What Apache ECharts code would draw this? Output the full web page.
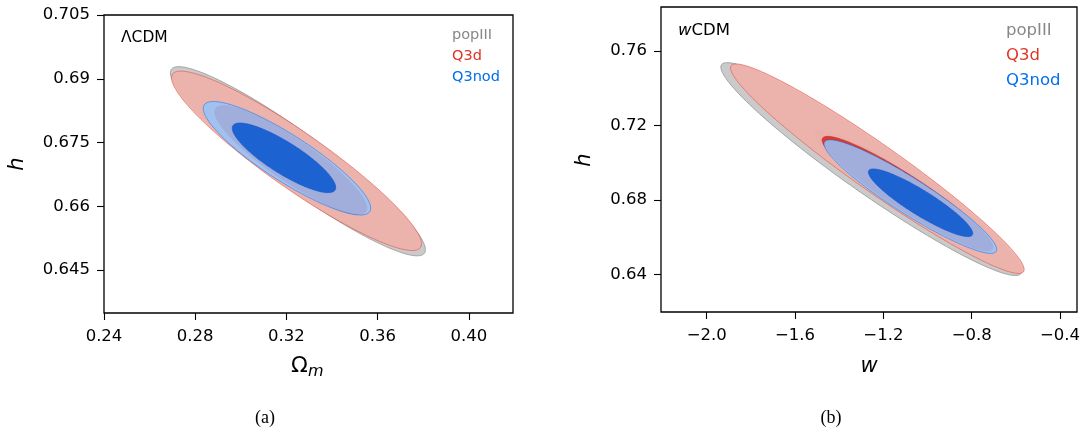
<!DOCTYPE html>
<html>
<head>
<meta charset="utf-8">
<script src="https://cdn.jsdelivr.net/npm/echarts@6/dist/echarts.min.js"></script>
<style>
html,body{margin:0;padding:0;background:#fff;}
#chart{width:1086px;height:432px;}
</style>
</head>
<body>
<div id="chart"></div>
<script>
// ---------- DATA ----------
// contour order (drawn bottom to top)
const contourLabels = ['popIII 2σ', 'popIII 1σ', 'Q3d 2σ', 'Q3d 1σ', 'Q3nod 2σ', 'Q3nod 1σ'];
const legendNames = ['popIII', 'Q3d', 'Q3nod'];

// Panel (a): ΛCDM, Omega_m vs h — Gaussian-ellipse contour parameters
const lcdmCenterOm = [0.3250, 0.3230, 0.3244, 0.3219, 0.3202, 0.3189];
const lcdmCenterH  = [0.6706, 0.6706, 0.6707, 0.6709, 0.6713, 0.6714];
const lcdmHalfOm   = [0.0559, 0.0330, 0.0548, 0.0334, 0.0367, 0.0227];
const lcdmHalfH    = [0.02225, 0.0127, 0.0211, 0.0128, 0.01335, 0.0082];
const lcdmCorr     = [-0.935, -0.895, -0.925, -0.885, -0.878, -0.850];

// Panel (b): wCDM, w vs h
const wcdmCenterW = [-1.2550, -1.1017, -1.2272, -1.0904, -1.0777, -1.0315];
const wcdmCenterH = [0.6965, 0.6845, 0.6967, 0.6833, 0.6817, 0.6784];
const wcdmHalfW   = [0.681, 0.408, 0.665, 0.387, 0.391, 0.2365];
const wcdmHalfH   = [0.0572, 0.0325, 0.0563, 0.0308, 0.0305, 0.0182];
const wcdmCorr    = [-0.958, -0.935, -0.962, -0.935, -0.930, -0.905];

// tick values
const lcdmXTicks = [0.24, 0.28, 0.32, 0.36, 0.40];
const lcdmYTicks = [0.645, 0.66, 0.675, 0.69, 0.705];
const wcdmXTicks = [-2.0, -1.6, -1.2, -0.8, -0.4];
const wcdmYTicks = [0.64, 0.68, 0.72, 0.76];

// ---------- STYLE ----------
const fills = [
  'rgb(202,202,202)',
  'rgb(170,170,170)',
  'rgba(239,176,170,0.93)',
  'rgba(218,45,35,0.9)',
  'rgba(150,195,250,0.85)',
  'rgba(22,94,208,0.95)'
];
const strokes = [
  'rgba(150,150,150,0.9)',
  'rgba(120,120,120,0.5)',
  'rgba(224,70,55,0.6)',
  'rgba(200,40,30,0.6)',
  'rgba(0,111,237,0.55)',
  'rgba(20,80,200,0.6)'
];
const legendColors = ['#888888', '#E03424', '#006FED'];
const FONT = '"DejaVu Sans"';

function ellipseSeries(xIdx, cx, cy, hx, hy, rho) {
  return cx.map((_, i) => ({
    type: 'custom',
    name: contourLabels[i],
    xAxisIndex: xIdx,
    yAxisIndex: xIdx,
    clip: true,
    z: 2 + i,
    silent: true,
    data: [[cx[i], cy[i], hx[i], hy[i], rho[i]]],
    renderItem: function (params, api) {
      const x0 = api.value(0), y0 = api.value(1), ax = api.value(2), ay = api.value(3), r = api.value(4);
      const s = Math.sqrt(1 - r * r);
      const pts = [];
      const N = 180;
      for (let k = 0; k < N; k++) {
        const t = 2 * Math.PI * k / N;
        const c = Math.cos(t), sn = Math.sin(t);
        pts.push(api.coord([x0 + ax * c, y0 + ay * (r * c + s * sn)]));
      }
      return {
        type: 'polygon',
        shape: { points: pts },
        style: { fill: fills[i], stroke: strokes[i], lineWidth: 0.9 }
      };
    }
  }));
}

function valueAxis(gridIndex, min, max, ticks, fmt, margin) {
  return {
    type: 'value',
    gridIndex: gridIndex,
    min: min,
    max: max,
    axisLine: { show: false },
    splitLine: { show: false },
    axisTick: { show: true, inside: false, length: 7, customValues: ticks,
      lineStyle: { color: '#000', width: 1.1 } },
    axisLabel: { show: true, customValues: ticks, formatter: fmt, margin: margin,
      color: '#000', fontFamily: FONT, fontSize: 16.5 }
  };
}

const chart = echarts.init(document.getElementById('chart'), null, { renderer: 'canvas', width: 1086, height: 432 });

const option = {
  backgroundColor: '#ffffff',
  animation: false,
  grid: [
    { left: 104, top: 15, width: 409, height: 298, show: true, borderColor: '#000', borderWidth: 1.3, backgroundColor: 'transparent' },
    { left: 661, top: 7, width: 416, height: 305, show: true, borderColor: '#000', borderWidth: 1.3, backgroundColor: 'transparent' }
  ],
  xAxis: [
    valueAxis(0, 0.24, 0.4193, lcdmXTicks, v => v.toFixed(2), 15),
    valueAxis(1, -2.207, -0.323, wcdmXTicks, v => v.toFixed(1).replace('-', '\u2212'), 15)
  ],
  yAxis: [
    valueAxis(0, 0.6349, 0.705, lcdmYTicks, v => String(v), 14),
    valueAxis(1, 0.6197, 0.7836, wcdmYTicks, v => v.toFixed(2), 14)
  ],
  series: [].concat(
    ellipseSeries(0, lcdmCenterOm, lcdmCenterH, lcdmHalfOm, lcdmHalfH, lcdmCorr),
    ellipseSeries(1, wcdmCenterW, wcdmCenterH, wcdmHalfW, wcdmHalfH, wcdmCorr)
  ),
  graphic: [
    // panel labels
    { type: 'text', x: 121, y: 38, style: { text: '\u039BCDM', fill: '#000', font: '15.5px ' + FONT, textAlign: 'left', textVerticalAlign: 'middle' } },
    { type: 'text', x: 678, y: 31, style: { text: '{i|w}CDM', rich: { i: { fontStyle: 'italic', fontSize: 16.5, fontFamily: FONT, fill: '#000' } }, fill: '#000', font: '16.5px ' + FONT, textAlign: 'left', textVerticalAlign: 'middle' } },
    // legends panel a
    { type: 'text', x: 452, y: 35, style: { text: legendNames[0], fill: legendColors[0], font: '14.5px ' + FONT, textAlign: 'left', textVerticalAlign: 'middle' } },
    { type: 'text', x: 452, y: 56, style: { text: legendNames[1], fill: legendColors[1], font: '14.5px ' + FONT, textAlign: 'left', textVerticalAlign: 'middle' } },
    { type: 'text', x: 452, y: 77.5, style: { text: legendNames[2], fill: legendColors[2], font: '14.5px ' + FONT, textAlign: 'left', textVerticalAlign: 'middle' } },
    // legends panel b
    { type: 'text', x: 1006, y: 31, style: { text: legendNames[0], fill: legendColors[0], font: '16.5px ' + FONT, textAlign: 'left', textVerticalAlign: 'middle' } },
    { type: 'text', x: 1006, y: 56, style: { text: legendNames[1], fill: legendColors[1], font: '16.5px ' + FONT, textAlign: 'left', textVerticalAlign: 'middle' } },
    { type: 'text', x: 1006, y: 81, style: { text: legendNames[2], fill: legendColors[2], font: '16.5px ' + FONT, textAlign: 'left', textVerticalAlign: 'middle' } },
    // axis titles
    { type: 'text', x: 17.5, y: 164, rotation: Math.PI / 2, style: { text: 'h', fill: '#000', font: 'italic 21px ' + FONT, textAlign: 'center', textVerticalAlign: 'middle' } },
    { type: 'text', x: 291, y: 366, style: { text: '\u03A9', fill: '#000', font: '22px ' + FONT, textAlign: 'left', textVerticalAlign: 'middle' } },
    { type: 'text', x: 308, y: 372, style: { text: 'm', fill: '#000', font: 'italic 16px ' + FONT, textAlign: 'left', textVerticalAlign: 'middle' } },
    { type: 'text', x: 585, y: 160, rotation: Math.PI / 2, style: { text: 'h', fill: '#000', font: 'italic 21px ' + FONT, textAlign: 'center', textVerticalAlign: 'middle' } },
    { type: 'text', x: 869, y: 367, style: { text: 'w', fill: '#000', font: 'italic 21px ' + FONT, textAlign: 'center', textVerticalAlign: 'middle' } },
    // captions
    { type: 'text', x: 265, y: 418, style: { text: '(a)', fill: '#000', font: '18px "Liberation Serif"', textAlign: 'center', textVerticalAlign: 'middle' } },
    { type: 'text', x: 831, y: 418, style: { text: '(b)', fill: '#000', font: '18px "Liberation Serif"', textAlign: 'center', textVerticalAlign: 'middle' } }
  ]
};
chart.setOption(option);
</script>
</body>
</html>
